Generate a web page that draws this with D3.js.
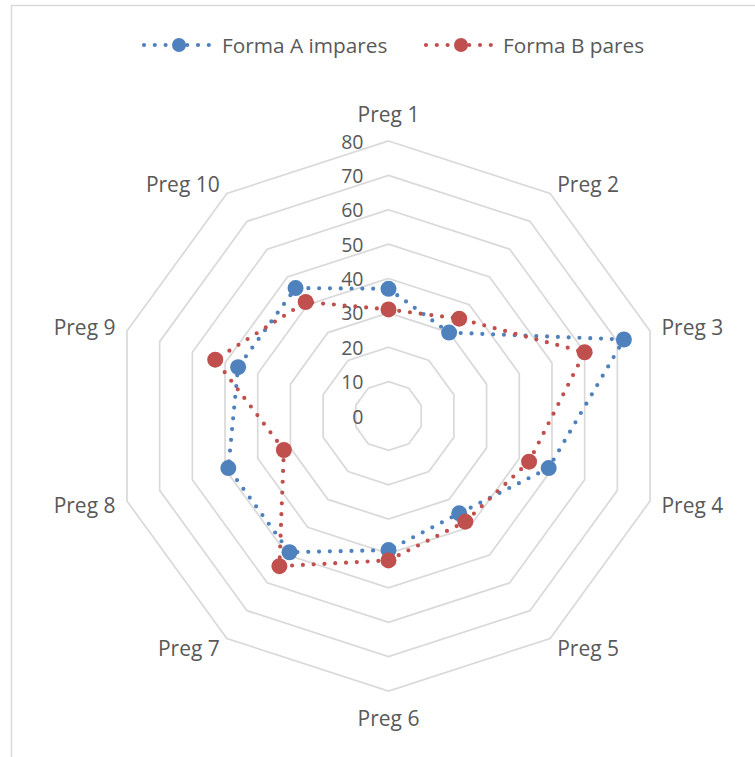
<!DOCTYPE html>
<html>
<head>
<meta charset="utf-8">
<script src="https://cdn.jsdelivr.net/npm/d3@7"></script>
<style>
  html, body { margin: 0; padding: 0; background: #fff; }
  svg { display: block; }
  text { font-family: "Open Sans", "Noto Sans", sans-serif; fill: #595959; }
</style>
</head>
<body>
<svg id="chart" width="755" height="757"></svg>
<script>
const categories = ["Preg 1", "Preg 2", "Preg 3", "Preg 4", "Preg 5", "Preg 6", "Preg 7", "Preg 8", "Preg 9", "Preg 10"];
const seriesNames = ["Forma A impares", "Forma B pares"];
const seriesA = [37, 30, 72, 49, 35, 39, 49, 49, 46, 46];
const seriesB = [31, 35, 60, 43, 38, 42, 54, 32, 53, 41];
const tickValues = [0, 10, 20, 30, 40, 50, 60, 70, 80];
const colors = ["#4F81BD", "#C0504D"];

const svg = d3.select("#chart");
const cx = 388.5, cy = 416;
const r = d3.scaleLinear().domain([0, 80]).range([0, 275]);
const angle = d3.scaleLinear().domain([0, categories.length]).range([0, 2 * Math.PI]);

function pt(i, v) {
  const a = angle(i);
  return [cx + Math.sin(a) * r(v), cy - Math.cos(a) * r(v)];
}

// border
svg.append("rect").attr("x", 11.5).attr("y", 5.5).attr("width", 760).attr("height", 770)
  .attr("fill", "none").attr("stroke", "#d9d9d9").attr("stroke-width", 1.5);

// grid rings
const ringLine = d3.line();
tickValues.filter(t => t > 0).forEach(t => {
  const pts = categories.map((c, i) => pt(i, t));
  svg.append("path").attr("d", ringLine(pts) + "Z")
    .attr("fill", "none").attr("stroke", "#d9d9d9").attr("stroke-width", 1.7);
});

// tick labels
svg.append("g").selectAll("text").data(tickValues).join("text")
  .attr("x", cx - 25).attr("y", d => cy - r(d))
  .attr("text-anchor", "end").attr("dominant-baseline", "central")
  .style("font-size", "19.5px").text(d => d);

// category labels
svg.append("g").selectAll("text").data(categories).join("text")
  .each(function(d, i) {
    const a = angle(i);
    const s = Math.sin(a), c = Math.cos(a);
    const p = pt(i, 80 + 12 * 80 / 275);
    let anchor = "middle", x = p[0], y = p[1];
    if (Math.abs(s) < 1e-6) {
      y = c > 0 ? p[1] - 15 : p[1] + 15;
    } else {
      anchor = s > 0 ? "start" : "end";
    }
    d3.select(this).attr("x", x).attr("y", y)
      .attr("text-anchor", anchor).attr("dominant-baseline", "central")
      .style("font-size", "21px").text(d);
  });

// series
const allSeries = [seriesA, seriesB];
allSeries.forEach((vals, si) => {
  const pts = vals.map((v, i) => pt(i, v));
  svg.append("path").attr("d", d3.line()(pts) + "Z")
    .attr("fill", "none").attr("stroke", colors[si]).attr("stroke-width", 4.2)
    .attr("stroke-linecap", "round").attr("stroke-dasharray", "0 10.8");
  svg.append("g").selectAll("circle").data(pts).join("circle")
    .attr("cx", d => d[0]).attr("cy", d => d[1]).attr("r", 8)
    .attr("fill", colors[si]);
});

// legend
const legendItems = [
  { x0: 144, x1: 214, cxm: 179, tx: 222 },
  { x0: 426, x1: 496, cxm: 461, tx: 503 }
];
legendItems.forEach((l, si) => {
  const g = svg.append("g");
  g.append("line").attr("x1", l.x0).attr("x2", l.x1).attr("y1", 45).attr("y2", 45)
    .attr("stroke", colors[si]).attr("stroke-width", 4.2).attr("stroke-linecap", "round")
    .attr("stroke-dasharray", "0 10.8");
  g.append("circle").attr("cx", l.cxm).attr("cy", 45).attr("r", 7).attr("fill", colors[si]);
  g.append("text").attr("x", l.tx).attr("y", 45).attr("dominant-baseline", "central")
    .style("font-size", "20.8px").text(seriesNames[si]);
});
</script>
</body>
</html>
